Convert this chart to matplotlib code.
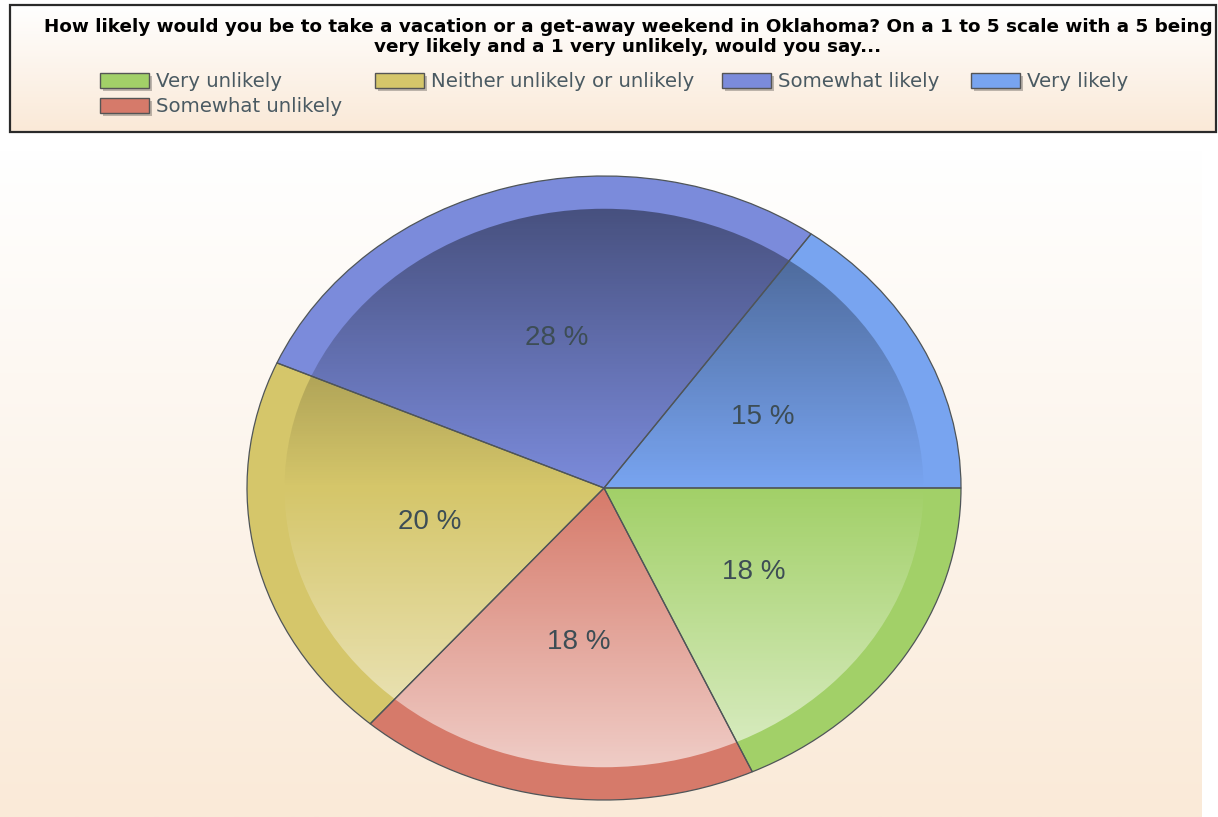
import numpy as np
import matplotlib
matplotlib.use("Agg")
import matplotlib.pyplot as plt
from matplotlib.patches import Rectangle, Circle

# ---- data ----
categories = ["Very unlikely", "Somewhat unlikely", "Neither unlikely or unlikely",
              "Somewhat likely", "Very likely"]
values = [18, 18, 20, 28, 15]
colors = ["#a2d068", "#d67a6a", "#d5c66a", "#7b8bdb", "#78a4f0"]
title_lines = ["How likely would you be to take a vacation or a get-away weekend in Oklahoma? On a 1 to 5 scale with a 5 being",
               "very likely and a 1 very unlikely, would you say..."]

W, H = 1218, 817
fig = plt.figure(figsize=(W / 100, H / 100), dpi=100)
bg = fig.add_axes([0, 0, 1, 1])
bg.set_xlim(0, W)
bg.set_ylim(H, 0)
bg.axis("off")


def vgrad(top, bottom, n=256):
    t = np.linspace(0, 1, n)[:, None]
    top = np.array(top) / 255.0
    bottom = np.array(bottom) / 255.0
    img = top[None, :] * (1 - t[..., None]) + bottom[None, :] * t[..., None]
    return img


# plot area background gradient
bg.imshow(vgrad((255, 255, 255), (250, 234, 216)), extent=(0, 1202, 817, 150),
          aspect="auto", zorder=0, interpolation="bilinear")

# legend box
bg.imshow(vgrad((255, 255, 255), (250, 233, 215)), extent=(10, 1216, 132, 5),
          aspect="auto", zorder=0, interpolation="bilinear")
bg.add_patch(Rectangle((10, 5), 1206, 127, fill=False, edgecolor="#2a2a2a", lw=1.6, zorder=2))

title_kw = dict(ha="center", va="center", fontsize=13.2, fontweight="bold",
                family="DejaVu Sans", color="black")
t1 = bg.text(628, 27, title_lines[0], **title_kw)
t2 = bg.text(628, 47, title_lines[1], **title_kw)

# fit first title line to its width in the reference (~1170 px)
fig.canvas.draw()
wpx = t1.get_window_extent().width
fs = 13.2 * 1170 / wpx
t1.set_fontsize(fs)
t2.set_fontsize(fs)

# legend entries: (category index, x, y)
legend_pos = [(0, 100, 81), (2, 375, 81), (3, 722, 81), (4, 971, 81), (1, 100, 106)]
for idx, x, y in legend_pos:
    bg.add_patch(Rectangle((x + 3, y - 5), 49, 15, facecolor="#00000040", edgecolor="none", zorder=2))
    bg.add_patch(Rectangle((x, y - 8), 49, 15, facecolor=colors[idx], edgecolor="#555555",
                           lw=1, zorder=3))
    bg.text(x + 56, y, categories[idx], ha="left", va="center", fontsize=14.2,
            family="DejaVu Sans", color="#4a5a62", zorder=3)

# ---- pie ----
pax = fig.add_axes([247 / W, 17 / H, 714 / W, 624 / H])
pax.pie(values, colors=colors, startangle=0, counterclock=False, radius=1,
        wedgeprops=dict(edgecolor="none", clip_on=False, zorder=1))
pax.pie(values, colors=colors, startangle=0, counterclock=False, radius=0.895,
        wedgeprops=dict(edgecolor="none", zorder=1.2),
        autopct="%.0f %%", pctdistance=0.5 / 0.895,
        textprops=dict(fontsize=20, family="Liberation Sans", color="#3d4d55", zorder=5))

# shading overlay on the inner part
n = 400
ys = np.linspace(1, -1, n)
ov = np.zeros((n, 1, 4))
up = ys > 0
ov[up, 0, :3] = 0.0
ov[up, 0, 3] = np.clip(0.42 * ys[up] / 0.89, 0, 0.45)
ov[~up, 0, :3] = 1.0
ov[~up, 0, 3] = np.clip(0.62 * (-ys[~up]) / 0.89, 0, 0.65)
im = pax.imshow(ov, extent=(-1, 1, -1, 1), aspect="auto", zorder=1.5, interpolation="bilinear")
clip = Circle((0, 0), 0.895, transform=pax.transData)
im.set_clip_path(clip)

# edges on top
pax.pie(values, colors=["none"] * len(values), startangle=0, counterclock=False, radius=1,
        wedgeprops=dict(edgecolor="#4f5558", lw=0.9, clip_on=False, zorder=3, fill=False))

pax.set_xlim(-1, 1)
pax.set_ylim(-1, 1)
pax.set_aspect("auto")
pax.axis("off")

fig.savefig("out.png", dpi=100)
